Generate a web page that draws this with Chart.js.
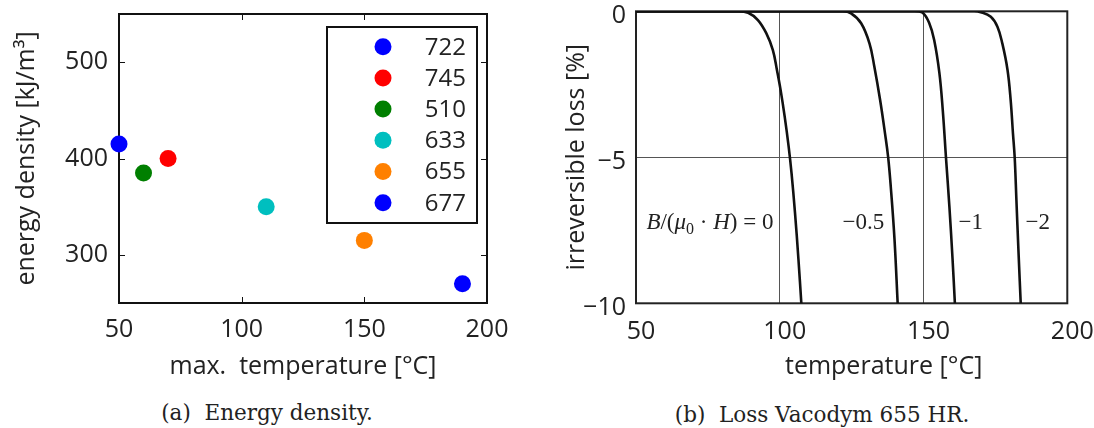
<!DOCTYPE html>
<html>
<head>
<meta charset="utf-8">
<script src="https://cdn.jsdelivr.net/npm/chart.js@4.4.1/dist/chart.umd.min.js"></script>
<style>
  body { margin: 0; background: #fff; }
  #wrap { position: relative; width: 1094px; height: 428px; overflow: hidden; }
  canvas { position: absolute; top: 0; }
  .cap { position: absolute; width: 400px; text-align: center; font: 21.5px 'DejaVu Serif', serif; color: #222; line-height: 28px; white-space: pre; }
</style>
</head>
<body>
<div id="wrap">
  <canvas id="energy" width="520" height="382" style="left:0"></canvas>
  <canvas id="loss" width="554" height="382" style="left:540px"></canvas>
  <div class="cap" style="left:67px; top:399px">(a)  Energy density.</div>
  <div class="cap" style="left:622px; top:401px">(b)  Loss Vacodym 655 HR.</div>
</div>
<script>
// left panel: energy density over max. temperature, one point per grade
const grades = ['722', '745', '510', '633', '655', '677'];
const maxTemp = [50, 70, 60, 110, 150, 190];
const energyDensity = [415, 400, 385, 350, 315, 270];
const gradeColors = ['#0000ff', '#ff0000', '#007f00', '#00bfbf', '#ff8000', '#0000ff'];
const energyXTicks = [50, 100, 150, 200];
const energyYTicks = [300, 400, 500];

// right panel: irreversible loss curves, one per working point B/(mu0*H)
const lossTemp0 = [50, 85.5, 89.0, 92.4, 95.3, 97.6, 99.0, 100.3, 101.7, 103.1, 104.1, 105.3, 106.5, 107.5];
const lossVal0 = [0, 0, -0.05, -0.3, -0.75, -1.33, -2.0, -2.7, -3.6, -4.64, -5.55, -6.9, -8.5, -10];
const lossTemp1 = [50, 121.9, 124.8, 128.3, 131.2, 132.9, 134.9, 136.6, 137.7, 138.6, 139.9, 141.0];
const lossVal1 = [0, 0, -0.07, -0.41, -1.1, -1.9, -3.04, -4.18, -5, -6.0, -7.8, -10];
const lossTemp2 = [50, 146.8, 149.7, 152.0, 153.7, 155.5, 156.7, 157.8, 159.0, 160.1, 160.9];
const lossVal2 = [0, 0, -0.05, -0.41, -0.98, -2.1, -3.4, -5, -6.7, -8.5, -10];
const lossTemp3 = [50, 167.6, 169.9, 173.4, 175.7, 177.4, 179.2, 180.3, 181.1, 181.7, 182.3, 183.0, 183.8];
const lossVal3 = [0, 0, -0.03, -0.19, -0.53, -1.1, -2.0, -3.04, -4.18, -5, -6.46, -8.17, -10];
const curveLabels = ['B/(μ0 · H) = 0', '−0.5', '−1', '−2'];
const curveLabelX = [97.8, 136.3, 162.2, 185.5];
const curveLabelAlign = ['right', 'right', 'left', 'left'];
const curveLabelY = -7.25;
const lossXTicks = [50, 100, 150, 200];
const lossYTicks = [0, -5, -10];

const SANS = "'Open Sans', sans-serif";
const SERIF = "'Liberation Serif', serif";
const INK = '#222';
const tickFont = { family: SANS, size: 25 };
const titleFont = { family: SANS, size: 25 };

// box around the plot area, with optional inward tick marks on all sides
const frame = {
  id: 'frame',
  beforeDatasetsDraw(chart, args, o) {
    const { ctx, chartArea: a } = chart;
    const { x, y } = chart.scales;
    ctx.save();
    ctx.strokeStyle = o.color;
    ctx.lineWidth = o.width;
    ctx.strokeRect(a.left, a.top, a.right - a.left, a.bottom - a.top);
    if (o.tick) {
      ctx.lineWidth = 1;
      ctx.beginPath();
      x.ticks.forEach(t => {
        const px = Math.round(x.getPixelForValue(t.value)) + 0.5;
        ctx.moveTo(px, a.bottom); ctx.lineTo(px, a.bottom - o.tick);
        ctx.moveTo(px, a.top); ctx.lineTo(px, a.top + o.tick);
      });
      y.ticks.forEach(t => {
        const py = Math.round(y.getPixelForValue(t.value)) + 0.5;
        ctx.moveTo(a.left, py); ctx.lineTo(a.left + o.tick, py);
        ctx.moveTo(a.right, py); ctx.lineTo(a.right - o.tick, py);
      });
      ctx.stroke();
    }
    ctx.restore();
  }
};

// legend in a framed box, top right inside the plot
const boxLegend = {
  id: 'boxLegend',
  afterDatasetsDraw(chart) {
    const { ctx, chartArea: a } = chart;
    const left = a.right - 160, top = a.top + 13;
    ctx.save();
    ctx.fillStyle = '#fff';
    ctx.fillRect(left, top, 150, 196);
    ctx.strokeStyle = '#111';
    ctx.lineWidth = 2;
    ctx.strokeRect(left, top, 150, 196);
    ctx.font = `24px ${SANS}`;
    ctx.textAlign = 'right';
    ctx.textBaseline = 'middle';
    chart.data.datasets.forEach((ds, i) => {
      const cy = top + 19.7 + i * 31.2;
      ctx.fillStyle = ds.backgroundColor;
      ctx.beginPath();
      ctx.arc(left + 56, cy, 8.5, 0, Math.PI * 2);
      ctx.fill();
      ctx.fillStyle = INK;
      ctx.fillText(ds.label, left + 139, cy + 1);
    });
    ctx.restore();
  }
};

// curve labels (the first one set as a formula) and the shifted x title
const curveNotes = {
  id: 'curveNotes',
  afterDatasetsDraw(chart, args, o) {
    const { ctx, chartArea: a } = chart;
    const { x, y } = chart.scales;
    const size = 23;
    ctx.save();
    ctx.fillStyle = INK;
    ctx.textBaseline = 'middle';
    ctx.textAlign = 'left';
    const py = y.getPixelForValue(curveLabelY);
    curveLabels.forEach((label, i) => {
      const pieces = [];
      [...label].forEach((ch, j) => {
        let kind = 'r';
        if (/[A-Zμ]/.test(ch)) kind = 'i';
        else if (/\d/.test(ch) && label[j - 1] === 'μ') kind = 's';
        pieces.push([ch, kind]);
      });
      const fontFor = k => k === 'i' ? `italic ${size}px ${SERIF}` : k === 's' ? `${Math.round(size * 0.7)}px ${SERIF}` : `${size}px ${SERIF}`;
      let w = 0;
      pieces.forEach(([t, k]) => { ctx.font = fontFor(k); w += ctx.measureText(t).width; });
      const px = x.getPixelForValue(curveLabelX[i]);
      let cx = curveLabelAlign[i] === 'right' ? px - w : px;
      pieces.forEach(([t, k]) => {
        ctx.font = fontFor(k);
        ctx.fillText(t, cx, k === 's' ? py + size * 0.28 : py);
        cx += ctx.measureText(t).width;
      });
    });
    // x axis title sits a bit right of centre in the original
    ctx.font = `${titleFont.size}px ${SANS}`;
    ctx.textAlign = 'center';
    ctx.fillText(o.xTitle, (a.left + a.right) / 2 + 32, 367);
    ctx.restore();
  }
};

const fixTicks = list => s => { s.ticks = list.map(v => ({ value: v })); };
const minus = v => v < 0 ? '−' + (-v) : String(v);

new Chart(document.getElementById('energy'), {
  type: 'scatter',
  data: {
    datasets: grades.map((g, i) => ({
      label: g,
      data: [{ x: maxTemp[i], y: energyDensity[i] }],
      backgroundColor: gradeColors[i],
      borderWidth: 0,
      pointRadius: 8.5,
      clip: false
    }))
  },
  options: {
    responsive: false,
    animation: false,
    events: [],
    layout: { padding: { left: 12, top: 14, right: 33, bottom: 0 } },
    plugins: {
      legend: { display: false },
      tooltip: { enabled: false },
      frame: { color: '#111', width: 2, tick: 6 }
    },
    scales: {
      x: {
        type: 'linear', min: 50, max: 200,
        afterBuildTicks: fixTicks(energyXTicks),
        afterFit: s => { s.height = 382 - 303; s.paddingLeft = 0; s.paddingRight = 0; },
        grid: { display: false, drawTicks: false },
        border: { display: false },
        ticks: { font: tickFont, color: INK, padding: 12, maxRotation: 0, autoSkip: false },
        title: { display: true, text: 'max.  temperature [°C]', font: titleFont, color: INK, padding: 0 }
      },
      y: {
        type: 'linear', min: 250, max: 550,
        afterBuildTicks: fixTicks(energyYTicks),
        afterFit: s => { s.width = 107; s.paddingTop = 0; s.paddingBottom = 0; },
        grid: { display: false, drawTicks: false },
        border: { display: false },
        ticks: { font: tickFont, color: INK, padding: 11 },
        title: { display: true, text: 'energy density [kJ/m³]', font: titleFont, color: INK, padding: 0 }
      }
    }
  },
  plugins: [frame, boxLegend]
});

const lossSets = [[lossTemp0, lossVal0], [lossTemp1, lossVal1], [lossTemp2, lossVal2], [lossTemp3, lossVal3]];

new Chart(document.getElementById('loss'), {
  type: 'line',
  data: {
    datasets: lossSets.map(([t, v], i) => ({
      label: curveLabels[i],
      data: t.map((tx, j) => ({ x: tx, y: v[j] })),
      borderColor: '#111',
      borderWidth: 2.6,
      pointRadius: 0,
      fill: false,
      tension: 0.4
    }))
  },
  options: {
    responsive: false,
    animation: false,
    events: [],
    layout: { padding: { left: 21.7, top: 11.3, right: 26.7, bottom: 0 } },
    plugins: {
      legend: { display: false },
      tooltip: { enabled: false },
      frame: { color: '#222', width: 2, tick: 0 },
      curveNotes: { xTitle: 'temperature [°C]' }
    },
    scales: {
      x: {
        type: 'linear', min: 50, max: 200,
        afterBuildTicks: fixTicks(lossXTicks),
        afterFit: s => { s.height = 382 - 303.3; s.paddingLeft = 0; s.paddingRight = 0; },
        grid: { color: '#555', lineWidth: 1, drawTicks: false },
        border: { display: false },
        ticks: { font: tickFont, color: INK, padding: 14, labelOffset: 5, maxRotation: 0, autoSkip: false }
      },
      y: {
        type: 'linear', min: -10, max: 0,
        afterBuildTicks: fixTicks(lossYTicks),
        afterFit: s => { s.width = 74.3; s.paddingTop = 0; s.paddingBottom = 0; },
        grid: { color: '#555', lineWidth: 1, drawTicks: false },
        border: { display: false },
        ticks: { font: tickFont, color: INK, padding: 10, labelOffset: 5, callback: minus },
        title: { display: true, text: 'irreversible loss [%]', font: titleFont, color: INK, padding: 0 }
      }
    }
  },
  plugins: [frame, curveNotes]
});
</script>
</body>
</html>
